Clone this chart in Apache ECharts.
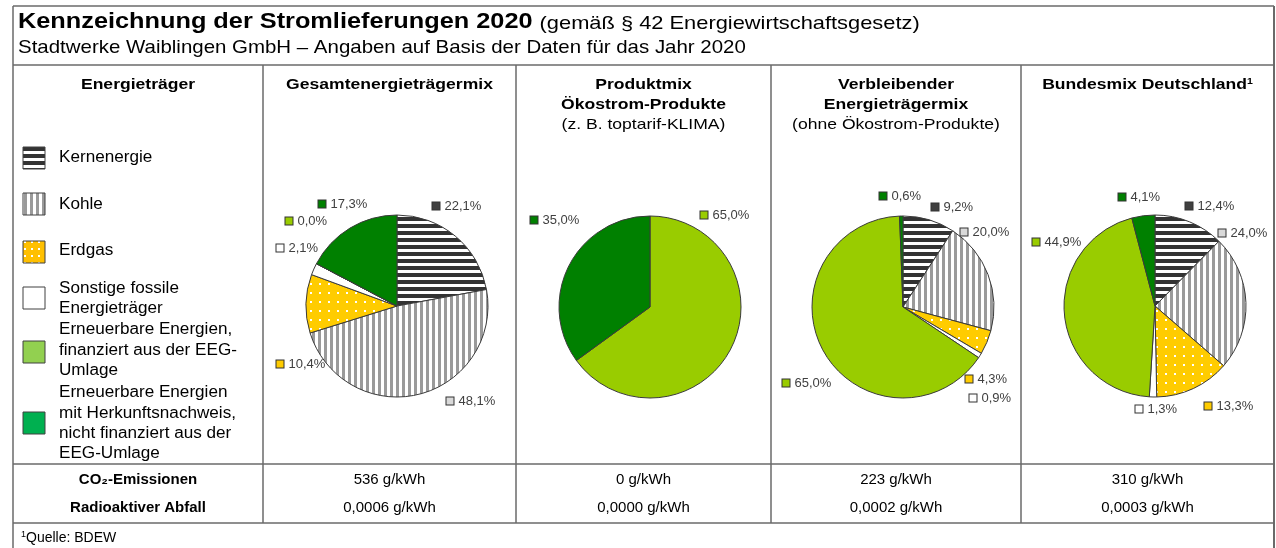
<!DOCTYPE html>
<html>
<head>
<meta charset="utf-8">
<script src="https://cdn.jsdelivr.net/npm/echarts@6/dist/echarts.min.js"></script>
<style>
  html, body { margin: 0; padding: 0; background: #fff; }
  #chart { width: 1276px; height: 548px; }
</style>
</head>
<body>
<div id="chart"></div>
<script>
// Energieträger (Reihenfolge wie in der Legende / im Uhrzeigersinn ab 12 Uhr)
const carriers = [
  'Kernenergie',
  'Kohle',
  'Erdgas',
  'Sonstige fossile Energieträger',
  'Erneuerbare Energien, finanziert aus der EEG-Umlage',
  'Erneuerbare Energien mit Herkunftsnachweis, nicht finanziert aus der EEG-Umlage'
];
const legendLines = [
  ['Kernenergie'],
  ['Kohle'],
  ['Erdgas'],
  ['Sonstige fossile', 'Energieträger'],
  ['Erneuerbare Energien,', 'finanziert aus der EEG-', 'Umlage'],
  ['Erneuerbare Energien', 'mit Herkunftsnachweis,', 'nicht finanziert aus der', 'EEG-Umlage']
];
// Anteile in %
const gesamtMix = [22.1, 48.1, 10.4, 2.1, 0.0, 17.3];
const produktMix = [null, null, null, null, 65.0, 35.0];
const verbleibendMix = [9.2, 20.0, 4.3, 0.9, 65.0, 0.6];
const bundesMix = [12.4, 24.0, 13.3, 1.3, 44.9, 4.1];
// Umweltauswirkungen
const co2 = ['536 g/kWh', '0 g/kWh', '223 g/kWh', '310 g/kWh'];
const waste = ['0,0006 g/kWh', '0,0000 g/kWh', '0,0002 g/kWh', '0,0003 g/kWh'];

const FONT = '"Liberation Sans", Arial, sans-serif';

function pattern(w, h, bg, draw) {
  const c = document.createElement('canvas');
  c.width = w; c.height = h;
  const ctx = c.getContext('2d');
  ctx.fillStyle = bg;
  ctx.fillRect(0, 0, w, h);
  draw(ctx);
  return { image: c, repeat: 'repeat' };
}
const kernFill = pattern(7, 7, '#fff', ctx => { ctx.fillStyle = '#333'; ctx.fillRect(0, 0, 7, 4); });
const kohleFill = pattern(6, 6, '#fff', ctx => { ctx.fillStyle = '#9a9a9a'; ctx.fillRect(0, 0, 3, 6); });
const gasFill = pattern(9, 9, '#ffcc00', ctx => { ctx.fillStyle = '#fff'; ctx.fillRect(4, 4, 2, 2); });
const gasLegendFill = pattern(7, 7, '#ffc000', ctx => { ctx.fillStyle = '#fff'; ctx.fillRect(3, 3, 2, 2); });

const pieColors = [kernFill, kohleFill, gasFill, '#ffffff', '#99cc00', '#008000'];
const markerColors = ['#404040', '#d9d9d9', '#ffcc00', '#ffffff', '#99cc00', '#008000'];
const legendColors = [kernFill, kohleFill, gasLegendFill, '#ffffff', '#92d050', '#00b050'];

const rich = {
  v: { color: '#404040', fontSize: 13, fontFamily: FONT },
  g: { width: 5 }
};
markerColors.forEach((c, i) => {
  rich['m' + i] = { width: 7, height: 7, backgroundColor: c, borderColor: '#333', borderWidth: 1 };
});
const fmt = v => v.toFixed(1).replace('.', ',');

// Tabellenraster / Layout
const colX = [13, 263, 516, 771, 1021, 1274];
const colMid = colX.slice(0, 5).map((x, i) => (x + colX[i + 1]) / 2);
const centers = [[397, 306], [650, 307], [903, 307], [1155, 306]];
const mixes = [gesamtMix, produktMix, verbleibendMix, bundesMix];
// Lage der Beschriftungen relativ zur Kreismitte (wie im Original von Hand gesetzt)
const labelOffsets = [
  [[39, -100], [53, 95], [-117, 58], [-117, -58], [-108, -85], [-75, -102]],
  [null, null, null, null, [54, -92], [-116, -87]],
  [[32, -100], [61, -75], [66, 72], [70, 91], [-117, 76], [-20, -111]],
  [[34, -100], [67, -73], [53, 100], [-16, 103], [-119, -64], [-33, -109]]
];

const line = (x1, y1, x2, y2, w) => ({
  type: 'line', silent: true,
  shape: { x1, y1, x2, y2 },
  style: { stroke: '#6a6a6a', lineWidth: w || 1.5 }
});
const text = (x, y, t, font, opt, sx) => ({
  type: 'text', x, y, silent: true, scaleX: sx || 1,
  style: Object.assign({ text: t, fill: '#000', font: font, align: 'center', verticalAlign: 'middle' }, opt || {})
});

const measure = (t, font) => {
  const ctx = document.createElement('canvas').getContext('2d');
  ctx.font = font;
  return ctx.measureText(t).width;
};

const graphics = [];
// Rahmen
graphics.push(line(13, 6, 1274, 6));
graphics.push(line(13, 6, 13, 548));
graphics.push(line(1274, 6, 1274, 548, 2));
graphics.push(line(13, 65, 1274, 65));
graphics.push(line(13, 464, 1274, 464));
graphics.push(line(13, 523, 1274, 523));
colX.slice(1, 5).forEach(x => graphics.push(line(x, 65, x, 523)));

// Titel
const TSX = 1.15;
const titleFont = 'bold 22px ' + FONT;
const title = 'Kennzeichnung der Stromlieferungen 2020';
graphics.push(text(18, 33, title, titleFont, { align: 'left', verticalAlign: 'bottom' }, TSX));
graphics.push(text(18 + measure(title + ' ', titleFont) * TSX, 33, '(gemäß § 42 Energiewirtschaftsgesetz)', '19px ' + FONT, { align: 'left', verticalAlign: 'bottom' }, TSX));
graphics.push(text(18, 48, 'Stadtwerke Waiblingen GmbH – Angaben auf Basis der Daten für das Jahr 2020', '17.8px ' + FONT, { align: 'left' }, TSX));

// Spaltenköpfe
const HSX = 1.17;
const hb = 'bold 15px ' + FONT, hr = '15px ' + FONT;
graphics.push(text(colMid[0], 85, 'Energieträger', hb, null, HSX));
graphics.push(text(colMid[1], 85, 'Gesamtenergieträgermix', hb, null, HSX));
graphics.push(text(colMid[2], 85, 'Produktmix', hb, null, HSX));
graphics.push(text(colMid[2], 105, 'Ökostrom-Produkte', hb, null, HSX));
graphics.push(text(colMid[2], 125, '(z. B. toptarif-KLIMA)', hr, null, HSX));
graphics.push(text(colMid[3], 85, 'Verbleibender', hb, null, HSX));
graphics.push(text(colMid[3], 105, 'Energieträgermix', hb, null, HSX));
graphics.push(text(colMid[3], 125, '(ohne Ökostrom-Produkte)', hr, null, HSX));
graphics.push(text(colMid[4], 85, 'Bundesmix Deutschland{s|1}', hb, {
  rich: { s: { fontSize: 9, fontWeight: 'bold', fontFamily: FONT, padding: [0, 0, 6, 0] } }
}, HSX));

// Legende
const iconY = [147, 193, 241, 287, 341, 412];
const textY = [[158], [205], [251], [289, 309], [330, 351, 371], [393, 414, 434, 454]];
legendLines.forEach((lines, i) => {
  graphics.push({
    type: 'rect', silent: true,
    shape: { x: 23, y: iconY[i], width: 22, height: 22 },
    style: { fill: legendColors[i], stroke: '#404040', lineWidth: 1 }
  });
  lines.forEach((l, j) => graphics.push(text(59, textY[i][j], l, '16px ' + FONT, { align: 'left' }, 1.07)));
});

// Emissionen
graphics.push(text(colMid[0], 480, 'CO₂-Emissionen', hb));
graphics.push(text(colMid[0], 508, 'Radioaktiver Abfall', hb));
co2.forEach((v, i) => graphics.push(text(colMid[i + 1], 480, v, hr)));
waste.forEach((v, i) => graphics.push(text(colMid[i + 1], 508, v, hr)));
graphics.push(text(21, 538, '{s|1}Quelle: BDEW', '14px ' + FONT, {
  align: 'left',
  rich: { s: { fontSize: 9, fontFamily: FONT, padding: [0, 0, 6, 0] } }
}));

const seriesData = mixes.map(mix => mix
  .map((v, i) => ({ value: v, name: carriers[i], idx: i, itemStyle: { color: pieColors[i] } }))
  .filter(d => d.value !== null));

const chart = echarts.init(document.getElementById('chart'), null, { renderer: 'canvas' });
chart.setOption({
  animation: false,
  backgroundColor: '#fff',
  graphic: { elements: graphics },
  series: mixes.map((mix, k) => ({
    type: 'pie',
    center: centers[k],
    radius: 91,
    startAngle: 90,
    clockwise: true,
    silent: true,
    avoidLabelOverlap: false,
    itemStyle: { borderColor: '#3a3a3a', borderWidth: 1 },
    label: {
      show: true,
      position: 'outside',
      formatter: p => '{m' + p.data.idx + '|}{g|}{v|' + fmt(p.value) + '%}',
      rich: rich
    },
    labelLine: { show: false },
    labelLayout: p => {
      const idx = seriesData[k][p.dataIndex].idx;
      const off = labelOffsets[k][idx];
      return { x: centers[k][0] + off[0] - 3.5, y: centers[k][1] + off[1], align: 'left', verticalAlign: 'middle' };
    },
    emphasis: { disabled: true },
    data: seriesData[k]
  }))
});
</script>
</body>
</html>
